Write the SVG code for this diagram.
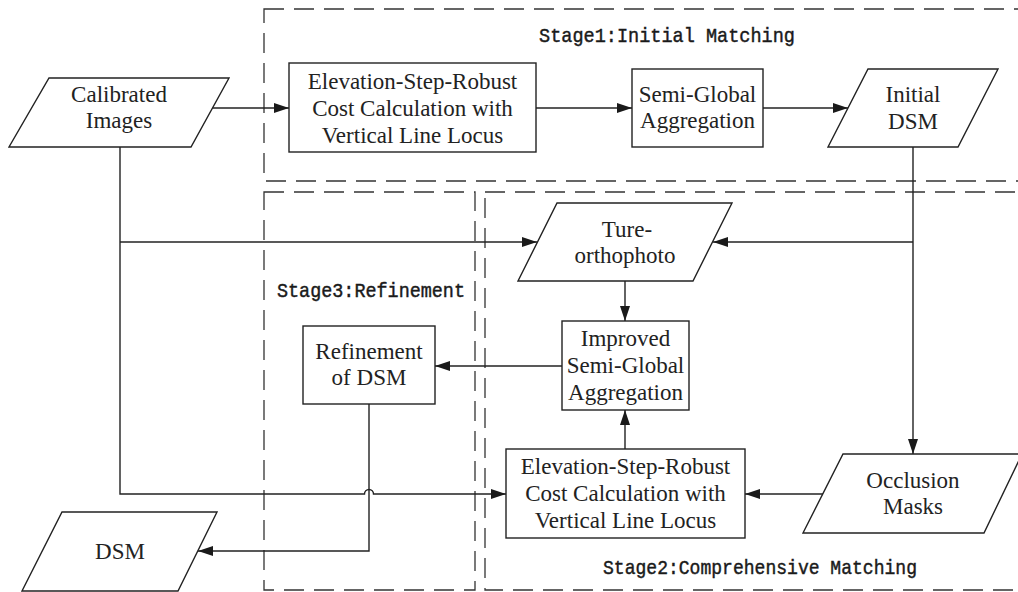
<svg xmlns="http://www.w3.org/2000/svg" width="1018" height="592" viewBox="0 0 1018 592">
<style>
.bg{fill:#fff}
.stage{fill:none;stroke:#333;stroke-width:1.3;stroke-dasharray:20 10}
.node{fill:#fff;stroke:#222;stroke-width:1.4}
.t{font-family:"Liberation Serif","Times New Roman",serif;font-size:23px;fill:#222;text-anchor:middle}
.lbl{font-family:"Liberation Mono","Courier New",monospace;font-size:21px;fill:#1a1a1a;stroke:#1a1a1a;stroke-width:0.45}
.c{fill:none;stroke:#222;stroke-width:1.4}
</style>
<defs>
<marker id="ah" markerUnits="userSpaceOnUse" markerWidth="16" markerHeight="11" refX="15" refY="5" orient="auto">
<path d="M0,0 L15,5 L0,10 z" fill="#1a1a1a"/>
</marker>
</defs>
<rect class="bg" x="0" y="0" width="1018" height="592"/>

<g id="stages">
<rect class="stage" x="264" y="9" width="780" height="172"/>
<rect class="stage" x="264" y="192" width="211" height="398"/>
<rect class="stage" x="485" y="192" width="560" height="398"/>
<text class="lbl" x="539" y="42" textLength="256" lengthAdjust="spacingAndGlyphs">Stage1:Initial Matching</text>
<text class="lbl" x="277" y="297" textLength="188" lengthAdjust="spacingAndGlyphs">Stage3:Refinement</text>
<text class="lbl" x="603" y="574" textLength="314" lengthAdjust="spacingAndGlyphs">Stage2:Comprehensive Matching</text>
</g>

<g id="connectors">
<path class="c" d="M212,108 H289" marker-end="url(#ah)"/>
<path class="c" d="M536,108 H632" marker-end="url(#ah)"/>
<path class="c" d="M763,108 H848" marker-end="url(#ah)"/>
<path class="c" d="M913,147 V454" marker-end="url(#ah)"/>
<path class="c" d="M913,242 H713" marker-end="url(#ah)"/>
<path class="c" d="M120,147 V494 H364.5 A4.5,4.5 0 0 1 373.5,494 H506" marker-end="url(#ah)"/>
<path class="c" d="M120,242 H537" marker-end="url(#ah)"/>
<path class="c" d="M625,281 V321" marker-end="url(#ah)"/>
<path class="c" d="M625,449 V410" marker-end="url(#ah)"/>
<path class="c" d="M562,366 H435" marker-end="url(#ah)"/>
<path class="c" d="M369,404 V551 H198" marker-end="url(#ah)"/>
<path class="c" d="M823,494 H745" marker-end="url(#ah)"/>
</g>

<g id="calibrated">
<polygon class="node" points="49,78 229,78 191,147 9,147"/>
<text class="t" x="119" y="102">Calibrated</text>
<text class="t" x="119" y="128">Images</text>
</g>

<g id="cost1">
<rect class="node" x="289" y="63" width="247" height="89"/>
<text class="t" x="412.5" y="89">Elevation-Step-Robust</text>
<text class="t" x="412.5" y="116">Cost Calculation with</text>
<text class="t" x="412.5" y="143">Vertical Line Locus</text>
</g>

<g id="sga">
<rect class="node" x="632" y="69" width="131" height="78"/>
<text class="t" x="697.5" y="102">Semi-Global</text>
<text class="t" x="697.5" y="128">Aggregation</text>
</g>

<g id="initialdsm">
<polygon class="node" points="868,69 998,69 958,147 828,147"/>
<text class="t" x="913" y="102">Initial</text>
<text class="t" x="913" y="129">DSM</text>
</g>

<g id="orthophoto">
<polygon class="node" points="557,203 732,203 693,281 518,281"/>
<text class="t" x="627" y="237">Ture-</text>
<text class="t" x="625" y="263">orthophoto</text>
</g>

<g id="isga">
<rect class="node" x="562" y="321" width="127" height="89"/>
<text class="t" x="625.5" y="346">Improved</text>
<text class="t" x="625.5" y="373">Semi-Global</text>
<text class="t" x="625.5" y="400">Aggregation</text>
</g>

<g id="refinement">
<rect class="node" x="303" y="326" width="132" height="78"/>
<text class="t" x="369" y="359">Refinement</text>
<text class="t" x="369" y="385">of DSM</text>
</g>

<g id="cost2">
<rect class="node" x="506" y="449" width="239" height="89"/>
<text class="t" x="625.5" y="474">Elevation-Step-Robust</text>
<text class="t" x="625.5" y="501">Cost Calculation with</text>
<text class="t" x="625.5" y="528">Vertical Line Locus</text>
</g>

<g id="occlusion">
<polygon class="node" points="843,454 1022,454 984,533 803,533"/>
<text class="t" x="913" y="488">Occlusion</text>
<text class="t" x="913" y="514">Masks</text>
</g>

<g id="dsm">
<polygon class="node" points="62,512 217,512 178,591 22,591"/>
<text class="t" x="120" y="559">DSM</text>
</g>
</svg>
